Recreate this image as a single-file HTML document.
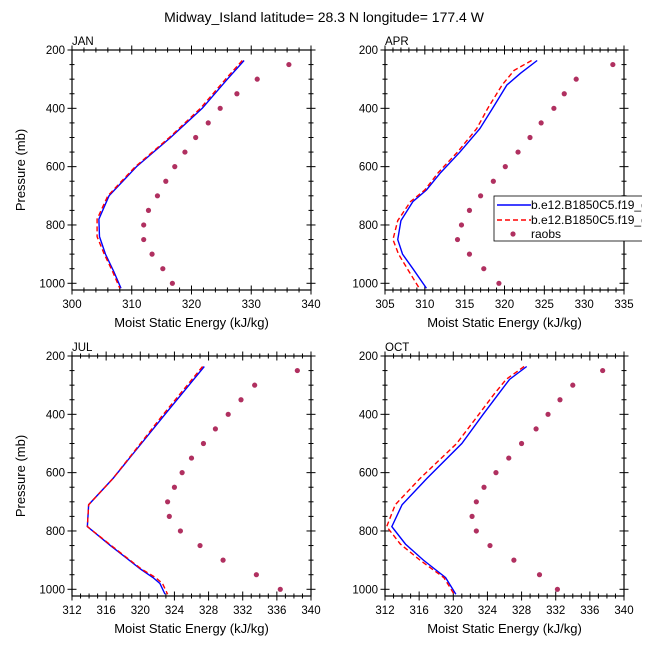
<!DOCTYPE html>
<html><head><meta charset="utf-8"><style>
body{margin:0;background:#fff}
svg{display:block;font-family:"Liberation Sans",sans-serif}
</style></head><body>
<svg id="c" width="648" height="648" viewBox="0 0 648 648">
<text x="324" y="22" text-anchor="middle" font-size="14">Midway_Island  latitude= 28.3 N longitude= 177.4 W</text>
</svg>
<script>
// ---- data ----
const janBlueP=[236,300,400,500,600,700,780,840,900,960,1017];
const janBlueX=[328.8,326,321.8,316.5,310.8,306.2,304.5,304.6,305.6,307,308.2];
const janRedP=[236,300,400,500,600,700,780,840,900,960,1017];
const janRedX=[328.5,325.7,321.5,316.3,310.6,306,304.2,304.2,305.4,306.8,308];
const janObsP=[250,300,350,400,450,500,550,600,650,700,750,800,850,900,950,1000];
const janObsX=[336.3,331,327.6,324.8,322.8,320.7,318.9,317.2,315.7,314.3,312.8,312,312,313.4,315.2,316.8];

const aprBlueP=[236,280,320,400,470,550,620,680,720,785,850,900,950,1017];
const aprBlueX=[324.1,322,320.3,318.5,316.9,314.4,312,310.2,308.5,307,306.6,307.2,308.5,310.2];
const aprRedP=[236,270,320,400,470,550,620,680,720,785,850,900,950,1017];
const aprRedX=[323.4,321.2,319.7,317.9,316.5,314.1,311.7,310,308.2,306.6,306,306.7,307.8,309.3];
const aprObsP=[250,300,350,400,450,500,550,600,650,700,750,800,850,900,950,1000];
const aprObsX=[333.6,329,327.5,326.2,324.6,323.2,321.7,320.1,318.6,317,315.6,314.6,314.1,315.6,317.4,319.3];

const julBlueP=[236,400,620,710,785,850,930,960,980,1017];
const julBlueX=[327.5,322.9,316.8,313.95,313.8,316.5,320,321.5,322.3,322.9];
const julRedP=[236,400,620,710,785,850,930,960,980,1017];
const julRedX=[327.3,322.7,316.8,313.95,313.8,316.6,320.1,321.8,322.6,323.2];
const julObsP=[250,300,350,400,450,500,550,600,650,700,750,800,850,900,950,1000];
const julObsX=[338.4,333.4,331.8,330.3,328.8,327.4,326,324.9,324,323.2,323.4,324.7,327,329.7,333.6,336.4];

const octBlueP=[236,280,330,400,500,620,710,785,845,900,960,1017];
const octBlueX=[328.6,326.6,325.3,323.5,321,316.9,314,312.8,314.4,316.5,319.1,320.3];
const octRedP=[236,280,330,400,500,620,710,785,845,900,960,1017];
const octRedX=[328.3,326.2,324.8,323,320.4,316.1,313.2,312.2,313.8,316.1,318.9,320.1];
const octObsP=[250,300,350,400,450,500,550,600,650,700,750,800,850,900,950,1000];
const octObsX=[337.5,334,332.5,331.1,329.7,328,326.5,325,323.6,322.7,322.2,322.7,324.3,327.1,330.1,332.2];

const yTicks=[200,400,600,800,1000];
const janXTicks=[300,310,320,330,340];
const aprXTicks=[305,310,315,320,325,330,335];
const julXTicks=[312,316,320,324,328,332,336,340];
const octXTicks=[312,316,320,324,328,332,336,340];
const legendLabels=["b.e12.B1850C5.f19_g16","b.e12.B1850C5.f19_g16","raobs"];

const svg=document.getElementById('c');
const NS='http://www.w3.org/2000/svg';
function mk(tag,attrs,parent){const e=document.createElementNS(NS,tag);for(const k in attrs)e.setAttribute(k,attrs[k]);(parent||svg).appendChild(e);return e;}

function panel(name,x0,y0,xmin,xmax,xTicks,minorStep,bp,bx,rp,rx,op,ox,showY){
  const W=239,H=240,pmin=200,pmax=1023;
  const g=mk('g',{});
  
  
  const X=v=>x0+(v-xmin)/(xmax-xmin)*W;
  const Y=p=>y0+(p-pmin)/(pmax-pmin)*H;
  const cp=mk('clipPath',{id:'cl'+name},g);
  mk('rect',{x:x0,y:y0,width:W,height:H},cp);
  for(let v=xmin;v<=xmax+1e-6;v+=minorStep){
    const major=xTicks.some(t=>Math.abs(t-v)<1e-6);const L=major?4.5:2.5;
    const xx=X(v);
    mk('line',{x1:xx,x2:xx,y1:y0+H-L,y2:y0+H+L,stroke:'#000','stroke-width':1},g);
    mk('line',{x1:xx,x2:xx,y1:y0-L,y2:y0+L,stroke:'#000','stroke-width':1},g);
  }
  for(let p=200;p<=1000;p+=50){
    const major=yTicks.includes(p);const L=major?4.5:2.5;const yy=Y(p);
    mk('line',{x1:x0-L,x2:x0+L,y1:yy,y2:yy,stroke:'#000','stroke-width':1},g);
    mk('line',{x1:x0+W-L,x2:x0+W+L,y1:yy,y2:yy,stroke:'#000','stroke-width':1},g);
  }
  mk('rect',{x:x0,y:y0,width:W,height:H,fill:'none',stroke:'#000','stroke-width':1.2},g);
  for(const t of xTicks){
    const tl=mk('text',{x:X(t),y:y0+H+18,'text-anchor':'middle','font-size':11.5},g);tl.textContent=t;
    
    
  }
  for(const t of yTicks){
    const tl=mk('text',{x:x0-7,y:Y(t)+4,'text-anchor':'end','font-size':11.5},g);tl.textContent=t;
    
    
  }
  const xt=mk('text',{x:x0+W/2,y:y0+H+37,'text-anchor':'middle','font-size':13},g);xt.textContent='Moist Static Energy (kJ/kg)';
  
  
  if(showY){
    const yt=mk('text',{x:0,y:0,'text-anchor':'middle','font-size':13,transform:`translate(${x0-47},${y0+H/2}) rotate(-90)`},g);yt.textContent='Pressure (mb)';
    
    
  }
  const lab=mk('text',{x:x0,y:y0-5,'font-size':11.5},g);lab.textContent=name.toUpperCase();
  
  
  const pg=mk('g',{'clip-path':`url(#cl${name})`},g);
  const pb=mk('polyline',{points:bp.map((p,i)=>X(bx[i])+','+Y(p)).join(' '),fill:'none',stroke:'#0000ff','stroke-width':1.4},pg);
  
  
  const pr=mk('polyline',{points:rp.map((p,i)=>X(rx[i])+','+Y(p)).join(' '),fill:'none',stroke:'#ff0000','stroke-width':1.4,'stroke-dasharray':'5,3'},pg);
  
  
  op.forEach((p,i)=>{
    const c=mk('circle',{cx:X(ox[i]),cy:Y(p),r:2.6,fill:'#b03060'},pg);
    
    
  });
}
panel('jan',72,50,300,340,janXTicks,2,janBlueP,janBlueX,janRedP,janRedX,janObsP,janObsX,true);
panel('apr',385,50,305,335,aprXTicks,1,aprBlueP,aprBlueX,aprRedP,aprRedX,aprObsP,aprObsX,false);
panel('jul',72,356,312,340,julXTicks,1,julBlueP,julBlueX,julRedP,julRedX,julObsP,julObsX,true);
panel('oct',385,356,312,340,octXTicks,1,octBlueP,octBlueX,octRedP,octRedX,octObsP,octObsX,false);

// legend (clipped at right like the reference)
const lcp=mk('clipPath',{id:'legclip'});
mk('rect',{x:490,y:190,width:152,height:56},lcp);
const lg=mk('g',{'clip-path':'url(#legclip)'});


mk('rect',{x:494,y:196,width:170,height:45,fill:'#fff',stroke:'#000','stroke-width':0.8},lg);
const rows=[205,220,234];
mk('line',{x1:497,x2:531,y1:rows[0],y2:rows[0],stroke:'#0000ff','stroke-width':1.4},lg);
mk('line',{x1:497,x2:531,y1:rows[1],y2:rows[1],stroke:'#ff0000','stroke-width':1.4,'stroke-dasharray':'5,3'},lg);
mk('circle',{cx:513,cy:rows[2],r:2.6,fill:'#b03060'},lg);
legendLabels.forEach((t,i)=>{
  const e=mk('text',{x:531,y:rows[i]+4,'font-size':12},lg);e.textContent=t;
  
  
});
</script>
</body></html>
